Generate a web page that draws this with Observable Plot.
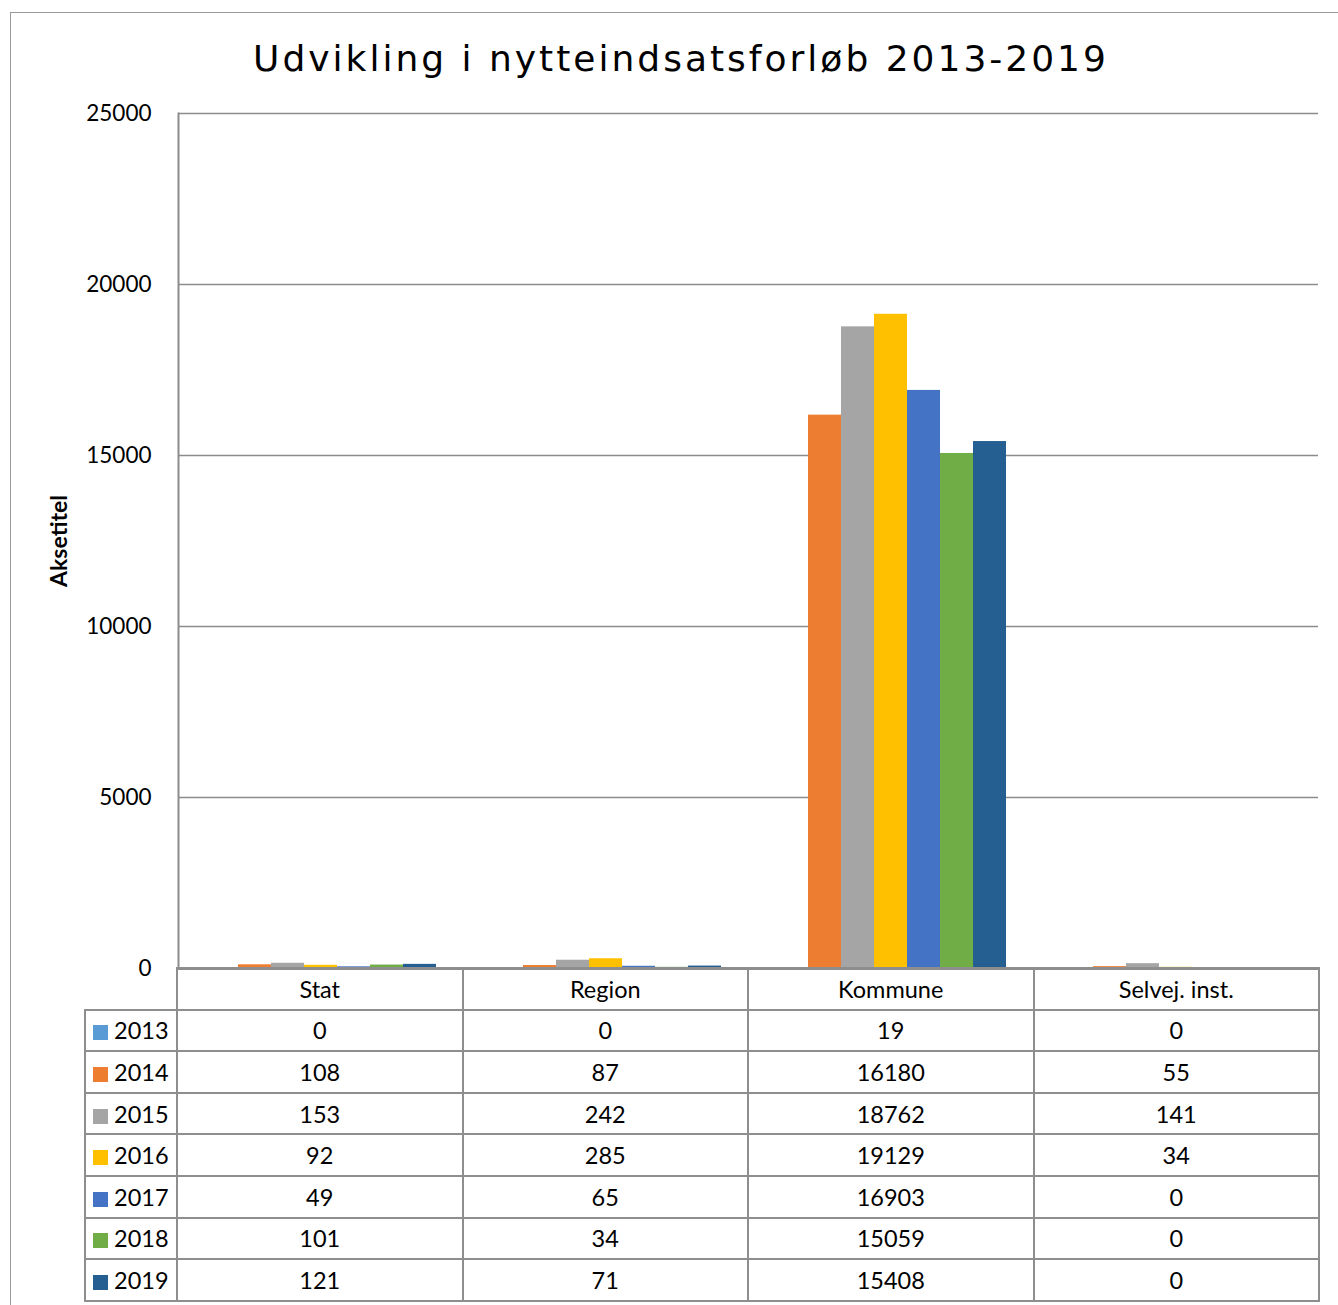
<!DOCTYPE html>
<html>
<head>
<meta charset="utf-8">
<script src="https://cdn.jsdelivr.net/npm/d3@7"></script>
<script src="https://cdn.jsdelivr.net/npm/@observablehq/plot@0.6"></script>
<style>
body{margin:0;background:#fff;}
#wrap{position:relative;width:1338px;height:1305px;overflow:hidden;font-family:Lato,sans-serif;color:#000;}
#border{position:absolute;left:10px;top:12px;width:1400px;height:1400px;border-left:1.5px solid #9a9a9a;border-top:1.5px solid #9a9a9a;}
#title{position:absolute;top:41px;left:681px;transform:translateX(-50%);white-space:nowrap;font-family:"DejaVu Sans",sans-serif;font-size:36px;line-height:36px;letter-spacing:3px;}
#chart{position:absolute;left:0;top:0;}
#chart [aria-label="y-axis label"]{font-weight:bold;font-size:23px;}
#tbl{position:absolute;left:84px;top:967px;border-collapse:collapse;table-layout:fixed;font-size:23.5px;font-family:Lato,sans-serif;}
#tbl td{border:2px solid #8e8e8e;text-align:center;padding:0;white-space:nowrap;}
#tbl tr{height:41.6px;}
#tbl td.blank{border-top:none;border-left:none;}
#tbl td.yr{text-align:left;padding-left:7px;}
#tbl .sw{display:inline-block;width:15px;height:15px;margin-right:6px;vertical-align:-1px;}
</style>
</head>
<body>
<div id="wrap">
  <div id="border"></div>
  <div id="title"></div>
  <div id="chart"></div>
  <table id="tbl"></table>
</div>
<script>
const title = "Udvikling i nytteindsatsforløb 2013-2019";
const yAxisTitle = "Aksetitel";
const categories = ["Stat", "Region", "Kommune", "Selvej. inst."];
const years = ["2013", "2014", "2015", "2016", "2017", "2018", "2019"];
const colors = ["#5B9BD5", "#ED7D31", "#A5A5A5", "#FFC000", "#4472C4", "#70AD47", "#255E91"];
const v2013 = [0, 0, 19, 0];
const v2014 = [108, 87, 16180, 55];
const v2015 = [153, 242, 18762, 141];
const v2016 = [92, 285, 19129, 34];
const v2017 = [49, 65, 16903, 0];
const v2018 = [101, 34, 15059, 0];
const v2019 = [121, 71, 15408, 0];
const series = [v2013, v2014, v2015, v2016, v2017, v2018, v2019];
const yTicks = [0, 5000, 10000, 15000, 20000, 25000];

const data = years.flatMap((yr, i) => categories.map((c, j) => ({year: yr, category: c, value: series[i][j]})));

document.getElementById("title").textContent = title;

const chart = Plot.plot({
  width: 1338,
  height: 990,
  marginLeft: 177,
  marginRight: 19,
  marginTop: 113,
  marginBottom: 22,
  style: {fontFamily: "Lato, sans-serif", fontSize: "22.5px", color: "#000", background: "transparent"},
  fx: {domain: categories, padding: 0, axis: null},
  x: {domain: years, paddingInner: 0, paddingOuter: 0.75, axis: null},
  y: {domain: [0, 25000]},
  color: {domain: years, range: colors},
  marks: [
    Plot.ruleY(yTicks.slice(1), {stroke: "#8c8c8c", strokeWidth: 1.5}),
    Plot.barY(data, {fx: "category", x: "year", y: "value", fill: "year"}),
    Plot.ruleY([0], {stroke: "#8c8c8c", strokeWidth: 3}),
    Plot.frame({anchor: "left", facetAnchor: "left", stroke: "#8c8c8c", strokeWidth: 2}),
    Plot.axisY({ticks: yTicks, tickFormat: d => String(d), tickSize: 0, tickPadding: 27, fontSize: 22.5,
      label: yAxisTitle, labelAnchor: "center", labelOffset: 128, labelArrow: "none"})
  ]
});
document.getElementById("chart").appendChild(chart);

// data table
const tbl = document.getElementById("tbl");
const cg = document.createElement("colgroup");
[92, 285.5, 285.5, 285.5, 285.5].forEach(w => {
  const col = document.createElement("col");
  col.style.width = w + "px";
  cg.appendChild(col);
});
tbl.appendChild(cg);
const hr = document.createElement("tr");
const blank = document.createElement("td");
blank.className = "blank";
hr.appendChild(blank);
categories.forEach(c => {
  const td = document.createElement("td");
  td.textContent = c;
  hr.appendChild(td);
});
tbl.appendChild(hr);
years.forEach((yr, i) => {
  const tr = document.createElement("tr");
  const td0 = document.createElement("td");
  td0.className = "yr";
  const sw = document.createElement("span");
  sw.className = "sw";
  sw.style.background = colors[i];
  td0.appendChild(sw);
  td0.appendChild(document.createTextNode(yr));
  tr.appendChild(td0);
  series[i].forEach(v => {
    const td = document.createElement("td");
    td.textContent = String(v);
    tr.appendChild(td);
  });
  tbl.appendChild(tr);
});
</script>
</body>
</html>
